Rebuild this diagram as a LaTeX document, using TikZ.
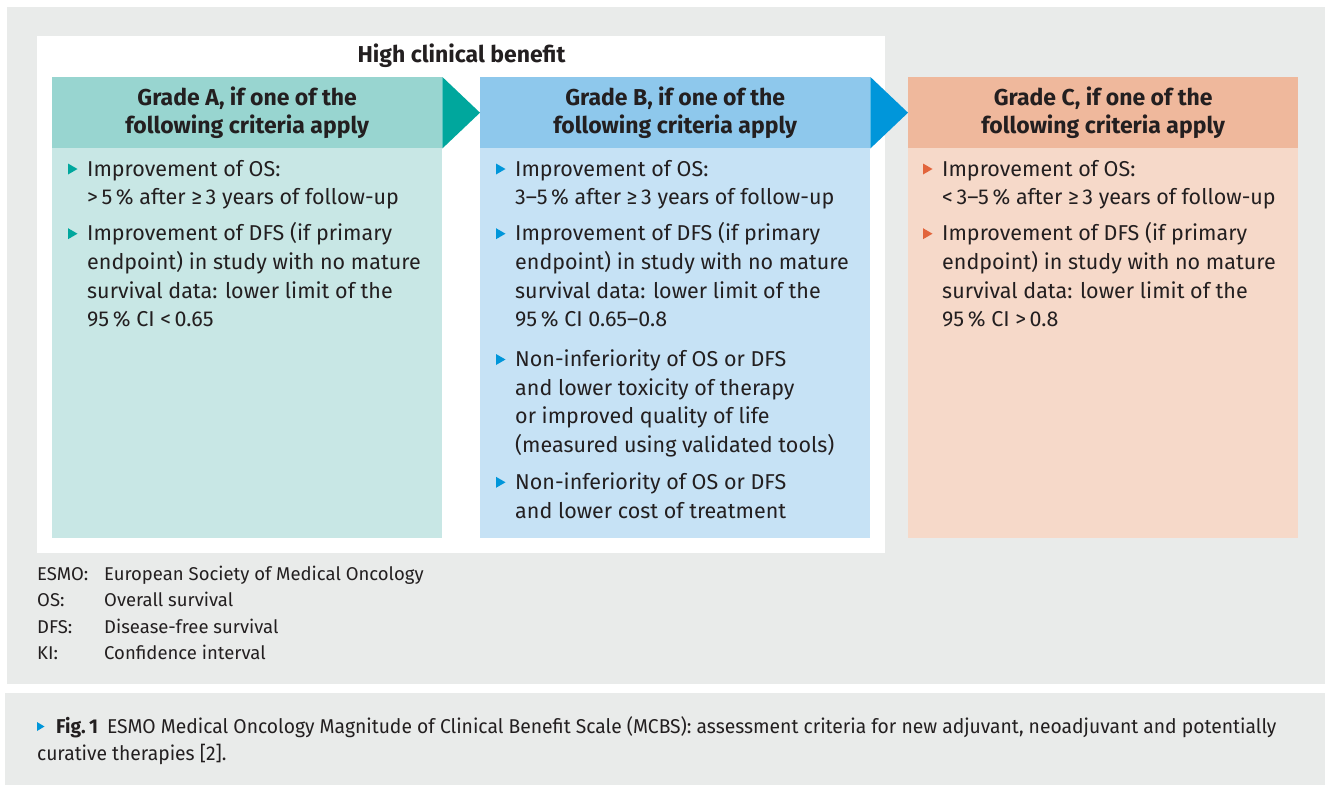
\documentclass[tikz,border=0pt]{standalone}
\usepackage{fontspec}
\setmainfont{Fira Sans}
\newfontfamily\capfont[FakeStretch=0.965]{Fira Sans}
\usetikzlibrary{calc}
\definecolor{bg}{HTML}{E9EBEA}
\definecolor{ink}{HTML}{231F20}
\definecolor{tealH}{HTML}{98D5D0}
\definecolor{tealB}{HTML}{C8E7E5}
\definecolor{tealA}{HTML}{00A79D}
\definecolor{blueH}{HTML}{8EC8EC}
\definecolor{blueB}{HTML}{C6E2F5}
\definecolor{blueA}{HTML}{0096DA}
\definecolor{orH}{HTML}{EFB89C}
\definecolor{orB}{HTML}{F6D9C9}
\definecolor{orA}{HTML}{E2643B}
\begin{document}
\begin{tikzpicture}[x=1pt,y=-1pt,
  txt/.style={inner sep=0, text=ink, anchor=base west, align=left, font=\fontsize{21.5}{28.7}\selectfont},
  hdr/.style={inner sep=0, minimum width=390, minimum height=71, anchor=north west, align=center, text=ink, font=\bfseries\fontsize{23}{28}\selectfont},
  bodybox/.style={inner sep=0, minimum width=390, minimum height=390, anchor=north west},
  leg/.style={inner sep=0, anchor=base west, text=ink, font=\fontsize{18.5}{20}\selectfont},
  captxt/.style={inner sep=0, anchor=base west, text=ink, font=\capfont\fontsize{20}{27}\selectfont},
]
\useasboundingbox (0,0) rectangle (1325,785);
\fill[white] (0,0) rectangle (1325,785);
\fill[bg] (7,7) rectangle (1325,684);
\fill[bg] (5,693) rectangle (1325,785);
\fill[white] (37,36) rectangle (885,553);

\node[inner sep=0, anchor=base, text=ink, font=\bfseries\fontsize{23}{28}\selectfont] (title) at (461.5,62) {High clinical benefit};

% columns
\node[bodybox, fill=tealB] (bA) at (52,148) {};
\node[bodybox, fill=blueB] (bB) at (480,148) {};
\node[bodybox, fill=orB] (bC) at (908,148) {};
\node[hdr, fill=tealH] (hA) at (52,77) {Grade A, if one of the\\following criteria apply};
\node[hdr, fill=blueH] (hB) at (480,77) {Grade B, if one of the\\following criteria apply};
\node[hdr, fill=orH] (hC) at (908,77) {Grade C, if one of the\\following criteria apply};

% arrows between headers
\fill[tealA] (hA.north east) -- (hA.south east) -- (hB.west) -- cycle;
\fill[blueA] (hB.north east) -- (hB.south east) -- (hC.west) -- cycle;

% Grade A (anchor = baseline of the last line)
\node[txt] (a1) at (87,204.7) {Improvement of OS:\\>\,5\,\% after ≥\,3 years of follow-up};
\node[txt] (a2) at (87,326.8) {Improvement of DFS (if primary\\endpoint) in study with no mature\\survival data: lower limit of the\\95\,\% CI <\,0.65};
\foreach \y in {176,240.7}{\fill[tealA] (68,\y-12.5) -- (68,\y-1.5) -- (77.5,\y-7) -- cycle;}

% Grade B
\node[txt] (b1) at (515,204.7) {Improvement of OS:\\3–5\,\% after ≥\,3 years of follow-up};
\node[txt] (b2) at (515,326.8) {Improvement of DFS (if primary\\endpoint) in study with no mature\\survival data: lower limit of the\\95\,\% CI 0.65–0.8};
\node[txt] (b3) at (515,452.6) {Non-inferiority of OS or DFS\\and lower toxicity of therapy\\or improved quality of life\\(measured using validated tools)};
\node[txt] (b4) at (515,518) {Non-inferiority of OS or DFS\\and lower cost of treatment};
\foreach \y in {176,240.7,366.5,489.3}{\fill[blueA] (496,\y-12.5) -- (496,\y-1.5) -- (505.5,\y-7) -- cycle;}

% Grade C
\node[txt] (c1) at (942,204.7) {Improvement of OS:\\<\,3–5\,\% after ≥\,3 years of follow-up};
\node[txt] (c2) at (942,326.8) {Improvement of DFS (if primary\\endpoint) in study with no mature\\survival data: lower limit of the\\95\,\% CI >\,0.8};
\foreach \y in {176,240.7}{\fill[orA] (923,\y-12.5) -- (923,\y-1.5) -- (932.5,\y-7) -- cycle;}

% legend
\node[leg] (k1) at (37,580.7) {ESMO:};
\node[leg] (v1) at (104,580.7) {European Society of Medical Oncology};
\node[leg] (k2) at (37,606.5) {OS:};
\node[leg] (v2) at (104,606.5) {Overall survival};
\node[leg] (k3) at (37,633) {DFS:};
\node[leg] (v3) at (104,633) {Disease-free survival};
\node[leg] (k4) at (37,659.5) {KI:};
\node[leg] (v4) at (104,659.5) {Confidence interval};

% caption
\fill[blueA] (37,722) -- (37,731) -- (44.5,726.5) -- cycle;
\node[captxt] (cap1) at (56,733) {{\bfseries Fig.\,1}\hspace{9pt}ESMO Medical Oncology Magnitude of Clinical Benefit Scale (MCBS): assessment criteria for new adjuvant, neoadjuvant and potentially};
\node[captxt] (cap2) at (37,760) {curative therapies [2].};
\end{tikzpicture}
\end{document}
